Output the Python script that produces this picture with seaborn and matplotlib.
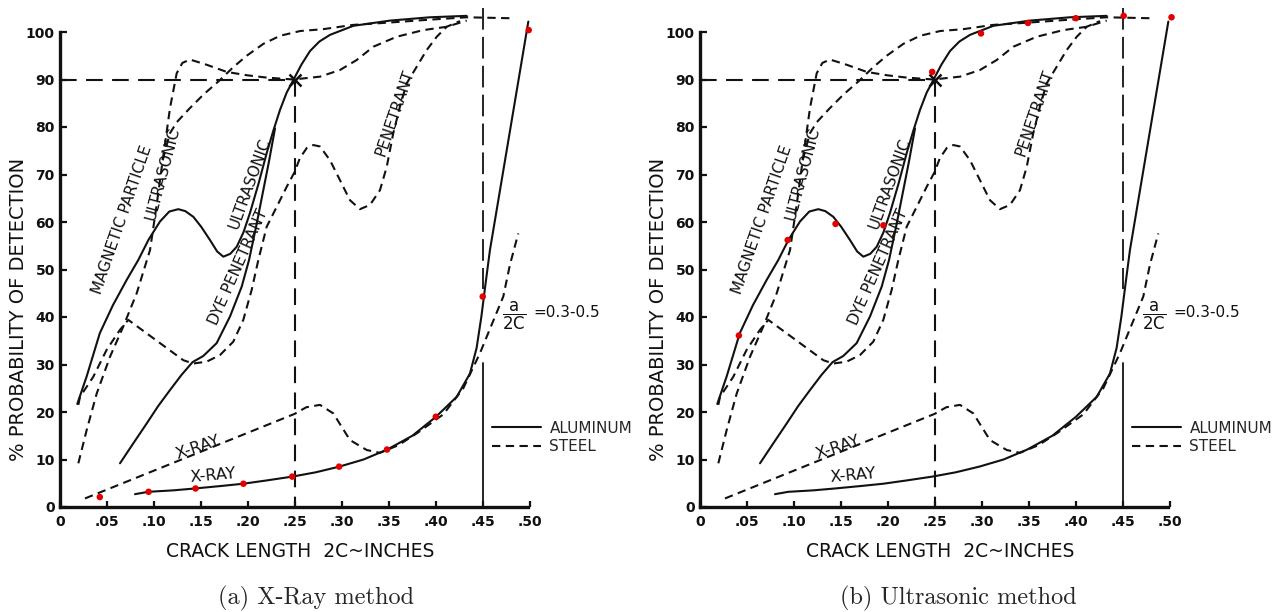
"""Probability of detection vs crack length for aluminum and steel.

Two panels of the same scanned chart: (a) red check points on the X-Ray
aluminum curve, (b) red check points on the Ultrasonic aluminum curve.
"""
import matplotlib
matplotlib.use("Agg")
import matplotlib.pyplot as plt
from matplotlib.lines import Line2D
import seaborn as sns

# ---- Curves (crack length 2c in inches, POD in %)
# Aluminum -> solid lines
ut_al_x = [0.018, 0.028, 0.042, 0.056, 0.0706, 0.083, 0.094, 0.1061, 0.116,
           0.1256, 0.133, 0.1416, 0.150, 0.1594, 0.167, 0.1736, 0.181, 0.1879,
           0.195, 0.202, 0.211, 0.2198, 0.227, 0.234, 0.241, 0.2482, 0.257,
           0.266, 0.276, 0.2873, 0.3121, 0.3512, 0.3938, 0.4329]
ut_al_y = [21.7, 27.5, 36.6, 42.5, 47.8, 52.0, 56.3, 60.1, 62.2,
           62.7, 62.3, 61.1, 59.0, 56.2, 53.8, 52.7, 53.3, 54.8,
           57.8, 61.9, 68.0, 74.5, 79.3, 83.6, 87.2, 89.9, 93.2,
           96.0, 98.0, 99.4, 101.3, 102.4, 103.1, 103.4]

dye_al_x = [0.0635, 0.078, 0.092, 0.104, 0.1167, 0.129, 0.1408, 0.1523,
            0.1665, 0.1807, 0.1932, 0.201, 0.208, 0.215, 0.222, 0.2287]
dye_al_y = [9.2, 13.5, 17.6, 21.2, 24.6, 27.8, 30.5, 31.8,
            34.5, 40.1, 46.4, 52.0, 58.5, 65.5, 72.5, 79.7]

xray_al_x = [0.0795, 0.0937, 0.12, 0.1434, 0.17, 0.1949, 0.22, 0.2471, 0.272,
             0.2972, 0.323, 0.3483, 0.375, 0.4002, 0.4223, 0.4364, 0.4435,
             0.4485, 0.453, 0.4577, 0.4986]
xray_al_y = [2.7, 3.2, 3.5, 3.9, 4.4, 4.9, 5.6, 6.4, 7.3,
             8.5, 10.0, 12.1, 15.0, 19.0, 23.2, 28.1, 33.5,
             40.0, 47.0, 54.1, 102.2]

# Steel -> dashed lines
mag_st_x = [0.0191, 0.028, 0.0387, 0.0528, 0.067, 0.0813, 0.0955, 0.1025,
            0.109, 0.1168, 0.1239, 0.130, 0.1381, 0.1559, 0.1772, 0.1985,
            0.2198, 0.2482, 0.2766, 0.2979, 0.3157, 0.3334, 0.3583, 0.3867,
            0.4116, 0.4329]
mag_st_y = [9.2, 16.2, 23.9, 31.6, 38.0, 45.0, 54.1, 63.5,
            73.0, 84.0, 91.3, 93.5, 94.2, 93.1, 91.6, 90.9,
            90.4, 90.0, 90.6, 92.0, 94.1, 96.9, 99.0, 100.4,
            101.1, 102.4]

ut_st_x = [0.109, 0.1165, 0.1239, 0.1381, 0.1523, 0.1701, 0.1842, 0.1985,
           0.2162, 0.234, 0.2553, 0.2801, 0.3121, 0.3512, 0.3938, 0.4329, 0.479]
ut_st_y = [73.0, 78.6, 81.0, 84.0, 86.8, 89.9, 92.6, 95.0,
           97.5, 99.2, 100.2, 100.6, 101.5, 102.0, 102.6, 103.1, 102.9]

pen_st_x = [0.0191, 0.0209, 0.035, 0.0493, 0.0635, 0.0723, 0.102, 0.131,
            0.1416, 0.1559, 0.1701, 0.1842, 0.1949, 0.2038, 0.2109, 0.2198,
            0.2305, 0.2411, 0.2495, 0.2553, 0.2626, 0.2695, 0.2766, 0.2873,
            0.2979, 0.3085, 0.3192, 0.3299, 0.3405, 0.3477, 0.3547, 0.3618,
            0.369, 0.3797, 0.3903, 0.401, 0.4116, 0.4258]
pen_st_y = [21.5, 23.2, 27.4, 33.1, 37.3, 39.4, 35.1, 30.9,
            30.2, 30.6, 32.0, 34.8, 39.4, 45.7, 52.0, 59.0,
            63.2, 67.4, 70.5, 73.5, 75.6, 76.2, 75.9, 73.0,
            68.8, 64.6, 62.7, 63.6, 66.7, 71.6, 78.7, 84.3,
            89.2, 92.7, 96.2, 99.0, 101.1, 102.3]

xray_st_x = [0.0262, 0.2495, 0.262, 0.2766, 0.2908, 0.3085, 0.3264, 0.3405,
             0.36, 0.3797, 0.408, 0.4293, 0.4471, 0.4577, 0.4719, 0.479, 0.4879]
xray_st_y = [1.8, 19.6, 21.0, 21.5, 19.7, 14.1, 12.0, 11.4,
             13.0, 15.5, 19.5, 25.0, 32.4, 37.5, 44.3, 51.0, 57.6]

# ---- Reference lines: 90 % POD at 2c = 0.25 in, marker line at 0.45 in
ref_pod = 90
ref_crack = 0.25
limit_crack = 0.45
limit_dash_y = [105, 46]
limit_solid_y = [30.3, 0]

# ---- Red check points
xray_dot_x = [0.042, 0.094, 0.144, 0.195, 0.247, 0.297, 0.348, 0.400, 0.450, 0.499]
xray_dot_y = [2.1, 3.2, 3.9, 4.9, 6.4, 8.5, 12.1, 19.0, 44.3, 100.4]
ut_dot_x = [0.041, 0.093, 0.144, 0.195, 0.247, 0.299, 0.349, 0.400, 0.451, 0.502]
ut_dot_y = [36.1, 56.2, 59.6, 59.3, 91.6, 99.7, 101.9, 102.9, 103.4, 103.1]

# ---- Axes ticks
x_ticks = [0, 0.05, 0.10, 0.15, 0.20, 0.25, 0.30, 0.35, 0.40, 0.45, 0.50]
x_tick_labels = ["0", ".05", ".10", ".15", ".20", ".25", ".30", ".35", ".40", ".45", ".50"]
y_ticks = [0, 10, 20, 30, 40, 50, 60, 70, 80, 90, 100]
y_tick_labels = ["0", "10", "20", "30", "40", "50", "60", "70", "80", "90", "100"]

captions = ["(a) X-Ray method", "(b) Ultrasonic method"]

INK = "#111111"
RED = "#e30000"
DASHED = (0, (4, 2.6))
REF = (0, (8, 4.5))
LONG = (0, (12, 4))


def curve(ax, xs, ys, ls, lw=1.5):
    sns.lineplot(x=xs, y=ys, ax=ax, color=INK, linewidth=lw, linestyle=ls,
                 estimator=None, sort=False, errorbar=None, clip_on=False)


def draw_panel(ax, dot_x, dot_y):
    # steel first, aluminum on top
    curve(ax, mag_st_x, mag_st_y, DASHED)
    curve(ax, ut_st_x, ut_st_y, DASHED)
    curve(ax, pen_st_x, pen_st_y, DASHED)
    curve(ax, xray_st_x, xray_st_y, DASHED)
    curve(ax, ut_al_x, ut_al_y, "-")
    curve(ax, dye_al_x, dye_al_y, "-")
    curve(ax, xray_al_x, xray_al_y, "-")

    # reference lines
    curve(ax, [0, ref_crack], [ref_pod, ref_pod], REF)
    curve(ax, [ref_crack, ref_crack], [ref_pod, 0], REF)
    curve(ax, [limit_crack, limit_crack], limit_dash_y, LONG, lw=1.3)
    curve(ax, [limit_crack, limit_crack], limit_solid_y, "-", lw=1.3)
    ax.plot([ref_crack], [ref_pod], marker="x", ms=9, mew=1.8, color=INK,
            clip_on=False)

    sns.scatterplot(x=dot_x, y=dot_y, ax=ax, color=RED, s=22, edgecolor="none",
                    zorder=6, clip_on=False, legend=False)

    # curve labels
    lab = dict(ha="center", va="center", rotation_mode="anchor",
               fontsize=11, color=INK)
    ax.text(0.066, 60.4, "MAGNETIC PARTICLE", rotation=71, **lab)
    ax.text(0.1088, 70.2, "ULTRASONIC", rotation=75, **lab)
    ax.text(0.202, 68.1, "ULTRASONIC", rotation=70, **lab)
    ax.text(0.1893, 50.5, "DYE PENETRANT", rotation=66, **lab)
    ax.text(0.3565, 82.9, "PENETRANT", rotation=71, **lab)
    lab["fontsize"] = 11.5
    ax.text(0.1466, 12.6, "X-RAY", rotation=18.5, **lab)
    ax.text(0.163, 6.6, "X-RAY", rotation=5, **lab)

    ax.text(0.4707, 40.2, r"$\dfrac{\mathsf{a}}{\mathsf{2C}}$", ha="left",
            va="center", fontsize=12, color=INK)
    ax.text(0.5036, 41.0, "=0.3-0.5", ha="left", va="center", fontsize=11,
            color=INK)

    handles = [Line2D([], [], color=INK, lw=1.5, ls="-"),
               Line2D([], [], color=INK, lw=1.5, ls=DASHED)]
    ax.legend(handles, ["ALUMINUM", "STEEL"], loc="upper left",
              bbox_to_anchor=(0.460, 18.2), bbox_transform=ax.transData,
              frameon=False, handlelength=3.2, handletextpad=0.55,
              labelspacing=0.22, fontsize=11, borderpad=0, borderaxespad=0)

    # axes styling
    ax.set_xlim(0, 0.5)
    ax.set_ylim(0, 100)
    sns.despine(ax=ax)
    ax.spines["left"].set_bounds(0, 100)
    ax.spines["bottom"].set_bounds(0, 0.498)
    for side in ("left", "bottom"):
        ax.spines[side].set_linewidth(2.4)
        ax.spines[side].set_color(INK)
    ax.set_xticks(x_ticks)
    ax.set_xticklabels(x_tick_labels, fontweight="bold")
    ax.set_yticks(y_ticks)
    ax.set_yticklabels(y_tick_labels, fontweight="bold")
    ax.tick_params(axis="both", direction="in", width=1.6, colors=INK,
                   labelsize=10, bottom=True, left=True)
    ax.tick_params(axis="y", length=5, pad=4)
    ax.tick_params(axis="x", length=4, pad=6)
    ax.set_ylabel("% PROBABILITY OF DETECTION", fontsize=14, color=INK)
    ax.yaxis.set_label_coords(-0.069, 0.415)
    ax.set_xlabel("CRACK LENGTH  2C~INCHES", fontsize=13.5, color=INK)
    ax.xaxis.set_label_coords(0.5106, -0.074)
    ax.patch.set_alpha(0)


sns.set_theme(style="white")
plt.rcParams["font.family"] = ["DejaVu Sans"]
plt.rcParams["mathtext.fontset"] = "dejavusans"

fig = plt.figure(figsize=(12.78, 6.12), dpi=100)
ax_a = fig.add_axes([60.4 / 1278, 105 / 612, 469.25 / 1278, 475 / 612])
ax_b = fig.add_axes([700.4 / 1278, 105 / 612, 469.25 / 1278, 475 / 612])

draw_panel(ax_a, xray_dot_x, xray_dot_y)
draw_panel(ax_b, ut_dot_x, ut_dot_y)

fig.text(316 / 1278, 8 / 612, captions[0], ha="center", va="baseline",
         family="cmr10", fontsize=17.5)
fig.text(958 / 1278, 8 / 612, captions[1], ha="center", va="baseline",
         family="cmr10", fontsize=17.5)

fig.savefig("out.png", dpi=100, facecolor="white")
